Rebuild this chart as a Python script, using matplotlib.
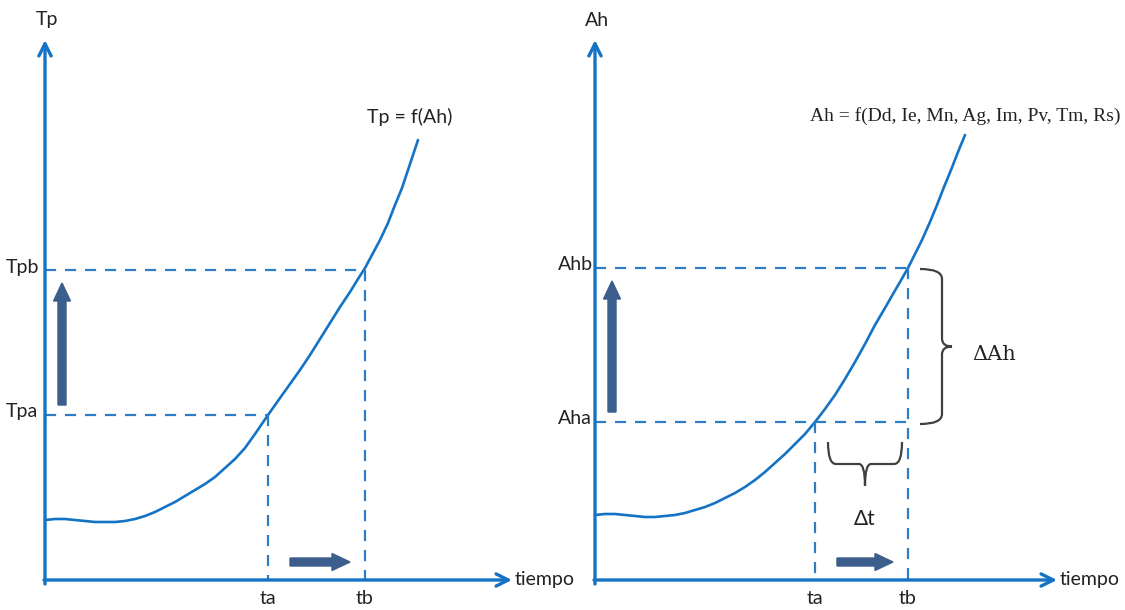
import matplotlib
matplotlib.use("Agg")
import matplotlib.pyplot as plt
from matplotlib.path import Path
from matplotlib.patches import PathPatch

# ---- data (schematic, read in picture pixel units) ----
left_curve_x = [45, 55, 65, 75, 85, 95, 105, 115, 125, 135, 145, 155, 165, 175, 185, 195, 205, 215, 225,
                235, 245, 255, 268, 280, 290, 300, 310, 320, 330, 340, 350, 358, 365, 372, 380, 388,
                395, 402, 408, 413, 418]
left_curve_y = [520, 519, 519, 520, 521, 522, 522, 522, 521, 519, 516, 512, 507, 502, 496, 490, 484, 477, 468,
                459, 448, 434, 415, 398, 384, 370, 355, 339, 323, 307, 292, 279, 268, 255, 240, 223,
                205, 188, 170, 155, 140]
right_curve_x = [595, 605, 615, 625, 635, 645, 655, 665, 675, 685, 695, 705, 715, 725, 735, 745, 755, 765,
                 775, 785, 795, 805, 815, 825, 835, 845, 855, 865, 875, 885, 893, 900, 908, 915, 922,
                 930, 937, 944, 951, 958, 965]
right_curve_y = [515, 514, 514, 515, 516, 517, 517, 516, 515, 513, 510, 507, 503, 498, 493, 487, 480, 472,
                 463, 454, 444, 434, 422, 409, 395, 379, 362, 344, 325, 308, 294, 282, 268, 254, 240,
                 222, 205, 187, 170, 152, 135]

left_origin = (45, 580)
right_origin = (595, 580)
left_x_end, right_x_end = 512, 1057
y_top = 40

left_t = [268, 365]          # ta, tb
left_levels = [415, 270]     # Tpa, Tpb
right_t = [815, 908]
right_levels = [422, 268]    # Aha, Ahb

t_labels = ["ta", "tb"]
left_level_labels = ["Tpa", "Tpb"]
right_level_labels = ["Aha", "Ahb"]

BLUE = "#1473C4"
DASH = "#2E7CC6"
DARK = "#3B5E8C"
BRACE = "#404040"
TXT = "#222222"
FONT = "Lato"
FS = 14

fig = plt.figure(figsize=(11.25, 6.1), dpi=100)
ax = fig.add_axes([0, 0, 1, 1])
ax.set_xlim(0, 1125)
ax.set_ylim(610, 0)
ax.axis("off")


def axis_arrow(x0, y0, x1, y1):
    ax.annotate("", xy=(x1, y1), xytext=(x0, y0),
                arrowprops=dict(arrowstyle="->", color=BLUE, lw=2.4,
                                mutation_scale=22, shrinkA=0, shrinkB=0))


def panel(origin, xend, cx, cy, ts, levels, ylab, extend_low_to_tb):
    ox, oy = origin
    axis_arrow(ox, oy + 4, ox, y_top)
    axis_arrow(ox - 1, oy, xend, oy)
    ax.plot(cx, cy, color=BLUE, lw=1.9, solid_capstyle="round", solid_joinstyle="round")
    ta, tb = ts
    la, lb = levels
    dash_kw = dict(color=DASH, lw=1.6, dashes=(5, 4))
    ax.plot([ox, tb if extend_low_to_tb else ta], [la, la], **dash_kw)
    ax.plot([ox, tb], [lb, lb], **dash_kw)
    ax.plot([ta, ta], [la, oy], **dash_kw)
    ax.plot([tb, tb], [lb, oy], **dash_kw)
    for t, lab in zip(ts, t_labels):
        ax.text(t, oy + 10, lab, ha="center", va="top", fontsize=FS, family=FONT, color=TXT)
    ax.text(xend + 3, oy, "tiempo", ha="left", va="center", fontsize=FS, family=FONT, color=TXT)
    ax.text(ox + 2, 20, ylab, ha="center", va="center", fontsize=FS, family=FONT, color=TXT)
    # thick arrows
    ax.arrow(ox + 17, la - 10, 0, (lb + 13) - (la - 10), width=8, head_width=17,
             head_length=18, color=DARK, length_includes_head=True)
    ax.arrow(ta + 22, 562, (tb - 15) - (ta + 22), 0, width=8, head_width=17,
             head_length=18, color=DARK, length_includes_head=True)


panel(left_origin, left_x_end, left_curve_x, left_curve_y, left_t, left_levels, "Tp", False)
panel(right_origin, right_x_end, right_curve_x, right_curve_y, right_t, right_levels, "Ah", True)

# level labels
for lvl, lab in zip(left_levels, left_level_labels):
    ax.text(22, lvl - 3, lab, ha="center", va="center", fontsize=FS, family=FONT, color=TXT)
for lvl, lab in zip(right_levels, right_level_labels):
    ax.text(575, lvl - 3, lab, ha="center", va="center", fontsize=FS, family=FONT, color=TXT)

# formulas
ax.text(410, 117, "Tp = f(Ah)", ha="center", va="center", fontsize=FS, family=FONT, color=TXT)
ax.text(965, 116, "Ah = f(Dd, Ie, Mn, Ag, Im, Pv, Tm, Rs)", ha="center", va="center",
        fontsize=14, family="Liberation Serif", color=TXT)


def vbrace(x0, y0, y1, w):
    ym = (y0 + y1) / 2
    verts = [(x0, y0), (x0 + w, y0), (x0 + w, y0 + 10),
             (x0 + w, ym - 8),
             (x0 + w, ym), (x0 + w + 10, ym),
             (x0 + w, ym), (x0 + w, ym + 8),
             (x0 + w, y1 - 10),
             (x0 + w, y1), (x0, y1)]
    codes = [Path.MOVETO, Path.CURVE3, Path.CURVE3, Path.LINETO,
             Path.CURVE3, Path.CURVE3, Path.CURVE3, Path.CURVE3,
             Path.LINETO, Path.CURVE3, Path.CURVE3]
    ax.add_patch(PathPatch(Path(verts, codes), fill=False, ec=BRACE, lw=1.6))


def hbrace(x0, x1, y0, h):
    xm = (x0 + x1) / 2
    verts = [(x0, y0), (x0, y0 + h), (x0 + 8, y0 + h),
             (xm - 6, y0 + h),
             (xm, y0 + h), (xm, y0 + h + 22),
             (xm, y0 + h), (xm + 6, y0 + h),
             (x1 - 8, y0 + h),
             (x1, y0 + h), (x1, y0)]
    codes = [Path.MOVETO, Path.CURVE3, Path.CURVE3, Path.LINETO,
             Path.CURVE3, Path.CURVE3, Path.CURVE3, Path.CURVE3,
             Path.LINETO, Path.CURVE3, Path.CURVE3]
    ax.add_patch(PathPatch(Path(verts, codes), fill=False, ec=BRACE, lw=1.6))


vbrace(920, 269, 424, 22)
ax.text(972, 354, "ΔAh", ha="left", va="center", fontsize=15, family="DejaVu Serif", color=TXT)
hbrace(828, 902, 442, 22)
ax.text(865, 519, "Δt", ha="center", va="center", fontsize=15, family=FONT, color=TXT)

fig.savefig("out.png", dpi=100)
